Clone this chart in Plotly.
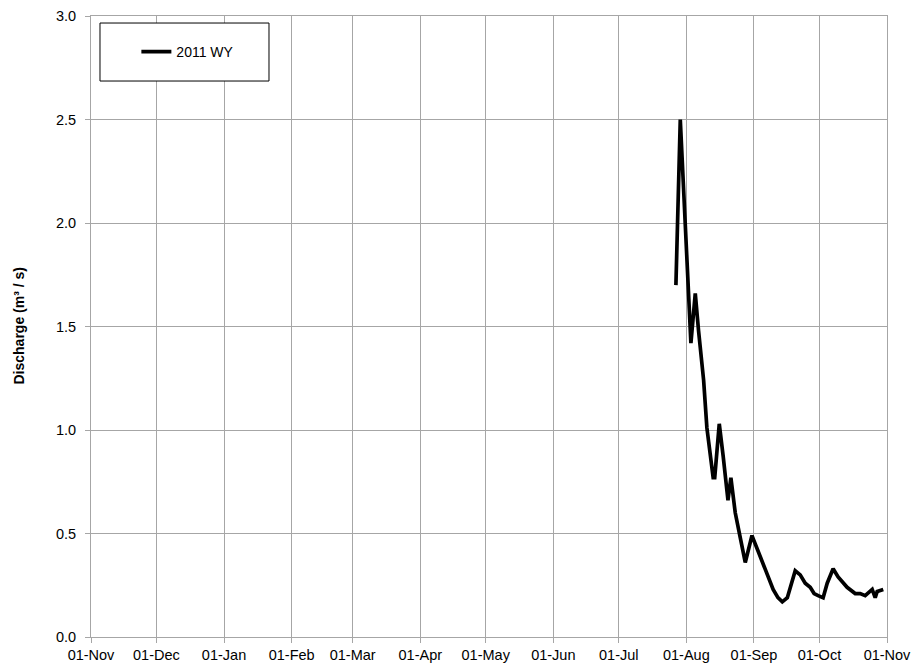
import plotly.graph_objects as go

# 2011 water year discharge (m3/s)
dates = [
    "2011-07-27 05:00", "2011-07-29 05:00", "2011-08-03 02:00", "2011-08-05 02:00",
    "2011-08-06 14:00", "2011-08-08 22:00", "2011-08-10 10:00", "2011-08-11 00:00",
    "2011-08-13 07:00", "2011-08-14 00:00", "2011-08-16 02:00", "2011-08-17 22:00",
    "2011-08-20 02:00", "2011-08-21 10:00", "2011-08-23 10:00", "2011-08-25 17:00",
    "2011-08-28 00:00", "2011-08-31 02:00", "2011-09-03 00:00", "2011-09-06 05:00",
    "2011-09-09 19:00", "2011-09-12 00:00", "2011-09-14 00:00", "2011-09-16 07:00",
    "2011-09-18 14:00", "2011-09-19 22:00", "2011-09-22 05:00", "2011-09-24 12:00",
    "2011-09-26 19:00", "2011-09-28 14:00", "2011-09-30 10:00", "2011-10-02 17:00",
    "2011-10-04 14:00", "2011-10-07 07:00", "2011-10-09 14:00", "2011-10-13 17:00",
    "2011-10-17 10:00", "2011-10-19 17:00", "2011-10-22 00:00", "2011-10-25 05:00",
    "2011-10-26 14:00", "2011-10-27 12:00", "2011-10-30 07:00",
]
discharge = [
    1.70, 2.50, 1.42, 1.66,
    1.48, 1.24, 1.01, 0.96,
    0.77, 0.77, 1.03, 0.87,
    0.66, 0.77, 0.60, 0.48,
    0.36, 0.49, 0.41, 0.32,
    0.23, 0.19, 0.17, 0.19,
    0.28, 0.32, 0.30, 0.26,
    0.24, 0.21, 0.20, 0.19,
    0.26, 0.33, 0.29, 0.24,
    0.21, 0.21, 0.20, 0.23,
    0.19, 0.22, 0.23,
]
series_name = "2011 WY"
x_range = ["2010-11-01", "2011-11-01"]
y_range = [0, 3.0]

grid = "#a6a6a6"
font_family = "Liberation Sans, Arial, sans-serif"

fig = go.Figure()
fig.add_trace(go.Scatter(
    x=dates, y=discharge, mode="lines", name=series_name,
    line=dict(color="black", width=3.7),
))

fig.update_layout(
    width=915, height=666,
    margin=dict(l=91, r=28, t=16, b=29, autoexpand=False),
    paper_bgcolor="white", plot_bgcolor="white",
    font=dict(family=font_family, size=14.5, color="black"),
    showlegend=True,
    legend=dict(
        x=0.057, y=0.942, xanchor="left", yanchor="middle",
        bgcolor="rgba(0,0,0,0)", borderwidth=0,
        font=dict(size=14, color="black"),
    ),
    shapes=[dict(
        type="rect", xref="paper", yref="paper",
        x0=0.0113, x1=0.2236, y0=0.8953, y1=0.9887,
        line=dict(color="black", width=1), fillcolor="white", layer="above",
    )],
    annotations=[dict(
        text="<b>Discharge (m³ / s)</b>", xref="paper", yref="paper",
        x=-0.0917, y=0.5, xanchor="center", yanchor="middle",
        textangle=-90, showarrow=False, font=dict(size=14, color="black"),
    )],
)

fig.update_xaxes(
    type="date", range=x_range, dtick="M1", tick0="2010-11-01",
    tickformat="%d-%b", showgrid=True, gridcolor=grid, gridwidth=1,
    showline=True, linecolor=grid, linewidth=1, mirror=True,
    ticks="outside", ticklen=5, tickcolor=grid, zeroline=False,
    ticklabelstandoff=0, automargin=False,
)
fig.update_yaxes(
    range=y_range, dtick=0.5, tick0=0, tickformat=".1f",
    showgrid=True, gridcolor=grid, gridwidth=1,
    showline=True, linecolor=grid, linewidth=1, mirror=True,
    ticks="outside", ticklen=5, tickcolor=grid, zeroline=False,
    ticklabelstandoff=6, automargin=False,
)

fig.write_html(
    "out.html",
    config={"displayModeBar": False},
    post_script="document.body.style.margin='0';document.body.style.overflow='hidden';",
)
